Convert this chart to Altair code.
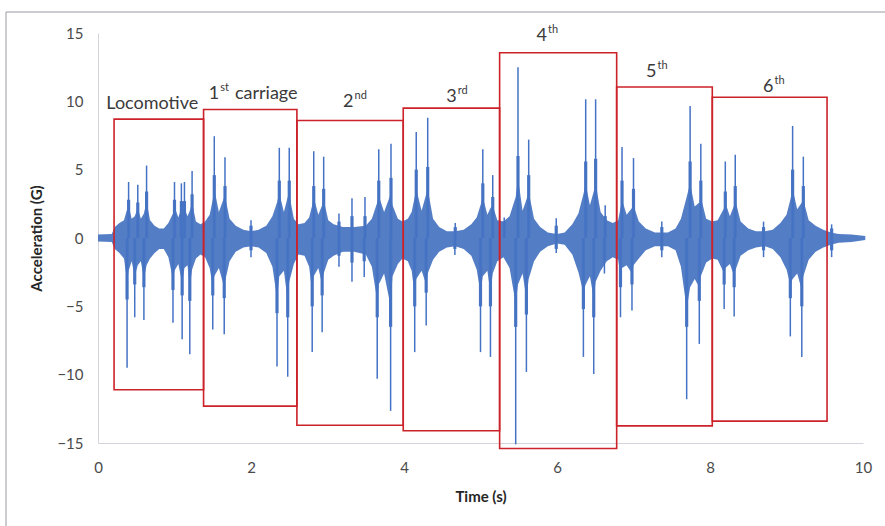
import altair as alt
import pandas as pd

# ---- dense body envelope of the signal (time s, upper G, lower G) ----
env_t = [0.00, 0.18, 0.22, 0.28, 0.34, 0.38, 0.40, 0.44, 0.48, 0.52, 0.56, 0.60, 0.635, 0.68, 0.74, 0.80, 0.86,
         0.92, 0.98, 1.00, 1.05, 1.10, 1.13, 1.17, 1.20, 1.23, 1.28, 1.34, 1.40, 1.46, 1.50, 1.52, 1.58, 1.65,
         1.66, 1.72, 1.80, 1.90, 2.00, 2.10, 2.20, 2.28, 2.34, 2.37, 2.43, 2.48, 2.50, 2.56, 2.62, 2.70, 2.76,
         2.80, 2.82, 2.88, 2.93, 2.95, 3.01, 3.08, 3.20, 3.35, 3.50, 3.58, 3.65, 3.67, 3.74, 3.825, 3.85, 3.92,
         3.98, 4.05, 4.10, 4.14, 4.16, 4.23, 4.29, 4.31, 4.38, 4.46, 4.56, 4.67, 4.78, 4.88, 4.95, 5.00, 5.03,
         5.09, 5.13, 5.16, 5.22, 5.30, 5.38, 5.46, 5.49, 5.55, 5.60, 5.63, 5.70, 5.78, 5.88, 6.00, 6.10, 6.20,
         6.28, 6.345, 6.375, 6.43, 6.48, 6.505, 6.57, 6.65, 6.73, 6.80, 6.83, 6.85, 6.91, 6.98, 7.00, 7.07, 7.16,
         7.28, 7.45, 7.55, 7.62, 7.695, 7.74, 7.80, 7.86, 7.88, 7.95, 8.03, 8.10, 8.185, 8.20, 8.26, 8.316, 8.33,
         8.40, 8.50, 8.60, 8.72, 8.82, 8.92, 9.00, 9.05, 9.08, 9.14, 9.20, 9.22, 9.29, 9.38, 9.48, 9.58, 9.68,
         9.85, 10.03]
env_up = [0.25, 0.3, 0.8, 1.1, 1.3, 2.1, 2.4, 1.4, 1.6, 2.2, 1.4, 1.8, 2.7, 1.3, 0.9, 0.7, 0.7,
          1.1, 1.8, 2.3, 1.5, 2.4, 2.2, 1.6, 2.0, 2.6, 1.2, 1.0, 1.2, 1.7, 2.8, 3.6, 1.9, 3.0,
          3.1, 1.4, 0.9, 0.6, 0.5, 0.6, 0.9, 1.6, 2.6, 3.3, 1.9, 3.0, 3.2, 1.4, 1.0, 1.1, 1.5,
          2.4, 3.0, 1.7, 2.4, 2.8, 1.3, 1.0, 0.8, 0.8, 0.9, 1.4, 2.6, 3.1, 1.9, 3.2, 2.4, 1.4,
          1.2, 1.4, 1.9, 3.0, 3.6, 2.0, 3.2, 3.6, 1.4, 0.8, 0.5, 0.5, 0.6, 1.0, 1.5, 2.4, 3.0,
          1.7, 2.2, 2.4, 1.3, 1.2, 1.6, 3.0, 4.4, 2.0, 2.8, 3.4, 1.4, 0.8, 0.4, 0.3, 0.4, 1.0,
          1.8, 3.2, 4.0, 2.4, 3.4, 4.0, 1.9, 1.3, 1.1, 1.3, 2.2, 2.8, 1.7, 2.2, 2.4, 1.2, 0.7,
          0.4, 0.4, 0.7, 1.4, 3.0, 4.0, 2.3, 2.6, 3.0, 1.4, 1.2, 1.3, 2.2, 2.6, 1.6, 2.4, 2.8,
          1.2, 0.7, 0.5, 0.5, 0.6, 1.1, 1.7, 2.8, 3.6, 2.1, 2.6, 2.8, 1.3, 0.9, 0.6, 0.4, 0.3,
          0.25, 0.15]
env_lo = [-0.25, -0.3, -0.8, -1.1, -1.5, -3.2, -2.4, -1.7, -2.8, -2.0, -1.7, -3.0, -2.0, -1.5, -1.1, -0.8, -0.8,
          -1.4, -3.0, -2.4, -1.9, -3.3, -2.2, -2.0, -3.6, -2.3, -1.5, -1.2, -1.4, -2.2, -3.6, -2.8, -2.2, -3.6,
          -3.2, -1.7, -1.0, -0.7, -0.6, -0.7, -1.1, -2.1, -4.4, -2.8, -2.4, -4.6, -3.2, -1.9, -1.2, -1.3, -2.1,
          -4.0, -2.8, -2.2, -3.4, -2.6, -1.6, -1.3, -1.0, -1.0, -1.2, -2.1, -4.6, -3.4, -2.6, -5.0, -2.8, -1.9,
          -1.5, -1.7, -2.4, -4.2, -3.0, -2.4, -3.4, -2.6, -1.6, -1.0, -0.7, -0.6, -0.8, -1.3, -2.3, -4.0, -2.8,
          -2.4, -4.0, -2.6, -1.7, -1.4, -2.2, -4.8, -3.4, -2.6, -4.4, -3.0, -1.7, -1.0, -0.6, -0.4, -0.5, -1.2,
          -2.5, -4.0, -3.4, -2.8, -4.4, -3.2, -2.4, -1.7, -1.4, -1.6, -2.8, -2.2, -2.0, -2.6, -2.0, -1.5, -0.9,
          -0.6, -0.6, -0.9, -2.1, -5.2, -3.6, -3.0, -3.6, -2.8, -1.8, -1.5, -1.6, -2.6, -2.2, -1.9, -2.8, -2.4,
          -1.3, -0.9, -0.7, -0.6, -0.8, -1.4, -2.3, -3.4, -3.0, -2.6, -3.8, -2.8, -1.6, -1.0, -0.7, -0.5, -0.35,
          -0.3, -0.15]

# ---- individual spikes: time, peak, and height of the thick (dense) lower part ----
pos_t = [0.40, 0.52, 0.635, 1.00, 1.09, 1.13, 1.23,
         1.52, 1.66, 2.00, 2.37, 2.50,
         2.82, 2.95, 3.15, 3.32, 3.49, 3.67, 3.83,
         4.16, 4.31, 4.67, 5.03, 5.16,
         5.31, 5.49, 5.63, 5.99, 6.375, 6.505, 6.63,
         6.85, 7.00, 7.37, 7.74, 7.88,
         8.20, 8.33, 8.70, 9.08, 9.22, 9.59]
pos_v = [4.1, 3.9, 5.3, 4.1, 4.0, 4.1, 4.9,
         7.45, 5.9, 1.3, 6.6, 6.6,
         6.35, 5.95, 1.8, 2.9, 3.0, 6.5, 6.9,
         7.75, 8.8, 1.1, 6.5, 4.6,
         1.5, 12.5, 7.2, 1.45, 10.15, 10.15, 2.4,
         6.65, 5.85, 1.2, 9.65, 6.9,
         5.6, 6.1, 1.2, 8.2, 5.95, 1.0]
pos_sh = [2.8, 2.6, 3.4, 2.8, 2.7, 2.7, 3.2,
          4.6, 3.8, 0.9, 4.2, 4.2,
          3.8, 3.6, 1.2, 1.6, 1.6, 4.2, 4.4,
          5.0, 5.2, 0.8, 4.0, 3.0,
          1.2, 6.0, 4.6, 0.9, 5.6, 5.8, 1.6,
          4.2, 3.6, 0.8, 5.6, 4.2,
          3.4, 3.8, 0.8, 5.0, 3.8, 0.7]
neg_t = [0.38, 0.48, 0.60, 0.98, 1.10, 1.20,
         1.50, 1.65, 2.00, 2.34, 2.48,
         2.80, 2.93, 3.15, 3.32, 3.48, 3.65, 3.825,
         4.14, 4.29, 4.665, 5.00, 5.13,
         5.46, 5.60, 5.99, 6.345, 6.48, 6.62,
         6.83, 6.98, 7.37, 7.695, 7.86,
         8.185, 8.316, 8.70, 9.05, 9.20, 9.59]
neg_v = [-9.5, -5.8, -6.0, -6.2, -7.4, -8.5,
         -6.7, -7.05, -1.4, -9.4, -10.15,
         -8.35, -6.9, -2.1, -3.2, -2.85, -10.3, -12.65,
         -8.35, -6.4, -1.25, -8.35, -8.7,
         -15.1, -9.8, -1.1, -8.7, -9.95, -2.6,
         -5.8, -5.3, -1.4, -11.8, -7.75,
         -5.2, -5.75, -1.4, -7.2, -8.7, -1.4]
neg_sh = [-4.5, -3.4, -3.6, -3.8, -4.2, -4.6,
          -4.2, -4.4, -0.9, -5.5, -5.8,
          -5.0, -4.2, -1.3, -1.8, -1.7, -5.8, -6.5,
          -5.0, -4.0, -0.8, -5.0, -5.0,
          -6.5, -5.6, -0.8, -5.2, -5.8, -1.6,
          -3.6, -3.4, -0.9, -6.5, -4.6,
          -3.4, -3.6, -0.9, -4.4, -5.0, -0.9]

# ---- red boxes ----
box_name = ["Locomotive", "1st", "2nd", "3rd", "4th", "5th", "6th"]
box_t0 = [0.21, 1.38, 2.60, 3.99, 5.25, 6.78, 8.03]
box_t1 = [1.38, 2.60, 3.99, 5.25, 6.78, 8.03, 9.53]
box_top = [8.7, 9.4, 8.6, 9.5, 13.55, 11.05, 10.3]
box_bot = [-11.1, -12.3, -13.7, -14.1, -15.4, -13.75, -13.4]

# ---- annotations ----
lab_base = ["Locomotive", "1", "2", "3", "4", "5", "6"]
lab_sup = ["", "st", "nd", "rd", "th", "th", "th"]
lab_t = [1.31, 1.585, 3.34, 4.69, 5.87, 7.30, 8.83]
lab_v = [9.44, 10.17, 9.58, 9.95, 14.4, 11.78, 10.68]
tail_text = ["carriage"]
tail_t = [1.79]
tail_v = [10.17]

y_ticks = [-15, -10, -5, 0, 5, 10, 15]
x_ticks = [0, 2, 4, 6, 8, 10]

env = pd.DataFrame({"t": env_t, "up": env_up, "lo": env_lo})
pos = pd.DataFrame({"t": pos_t, "v": pos_v, "sh": pos_sh, "z": 0.0})
neg = pd.DataFrame({"t": neg_t, "v": neg_v, "sh": neg_sh, "z": 0.0})
boxes = pd.DataFrame({"name": box_name, "t0": box_t0, "t1": box_t1, "top": box_top, "bot": box_bot})
labs = pd.DataFrame({"base": lab_base, "sup": lab_sup, "t": lab_t, "v": lab_v})
tails = pd.DataFrame({"text": tail_text, "t": tail_t, "v": tail_v})

FONT = "Lato"
BLUE = "#4472C4"
BODY = "#4a76c2"
RED = "#cc2229"

xs = alt.Scale(domain=[0, 10], nice=False)
ys = alt.Scale(domain=[-15, 15], nice=False)

x_axis = alt.Axis(values=x_ticks, format="d", title="Time (s)", grid=False, ticks=False,
                  domainColor="#d4d4dc", labelFlush=False,
                  labelFont=FONT, labelFontSize=15, labelColor="#4a4a4a", labelPadding=17,
                  titleFont=FONT, titleFontSize=15, titleFontWeight="bold", titleColor="#262626",
                  titlePadding=14)
y_axis = alt.Axis(values=y_ticks, format="d", title="Acceleration (G)", grid=False, ticks=False,
                  domainColor="#d4d4dc", labelFlush=False,
                  labelFont=FONT, labelFontSize=15, labelColor="#4a4a4a", labelPadding=15,
                  titleFont=FONT, titleFontSize=15, titleFontWeight="bold", titleColor="#262626",
                  titlePadding=12)

body = alt.Chart(env).mark_area(color=BODY, opacity=0.95, clip=False).encode(
    x=alt.X("t:Q", scale=xs, axis=x_axis),
    y=alt.Y("up:Q", scale=ys, axis=y_axis),
    y2="lo:Q",
)
sh_p = alt.Chart(pos).mark_rule(color=BODY, strokeWidth=3.2).encode(x="t:Q", y="z:Q", y2="sh:Q")
sh_n = alt.Chart(neg).mark_rule(color=BODY, strokeWidth=3.2).encode(x="t:Q", y="z:Q", y2="sh:Q")
spk_p = alt.Chart(pos).mark_rule(color=BLUE, strokeWidth=1.5).encode(
    x="t:Q", y="z:Q", y2="v:Q")
spk_n = alt.Chart(neg).mark_rule(color=BLUE, strokeWidth=1.5, clip=False).encode(
    x="t:Q", y="z:Q", y2="v:Q")

rects = alt.Chart(boxes).mark_rect(fill=None, stroke=RED, strokeWidth=1.6, clip=False).encode(
    x="t0:Q", x2="t1:Q", y="top:Q", y2="bot:Q")

base_txt = alt.Chart(labs).mark_text(font=FONT, fontSize=18, color="#3a3a3a", align="right",
                                     baseline="alphabetic").encode(x="t:Q", y="v:Q", text="base:N")
sup_txt = alt.Chart(labs).mark_text(font=FONT, fontSize=11, color="#3a3a3a", align="left",
                                    baseline="alphabetic", dx=1, dy=-8).encode(x="t:Q", y="v:Q", text="sup:N")
tail_txt = alt.Chart(tails).mark_text(font=FONT, fontSize=18, color="#3a3a3a", align="left",
                                      baseline="alphabetic").encode(x="t:Q", y="v:Q", text="text:N")

frame = alt.Chart(boxes.head(1)).mark_rect(fill=None, stroke="#9a9aa2", strokeWidth=1, clip=False).encode(
    x=alt.value(-92), x2=alt.value(900), y=alt.value(-21), y2=alt.value(600))

chart = alt.layer(frame, body, sh_p, sh_n, spk_p, spk_n, rects, base_txt, sup_txt, tail_txt).properties(
    width=765, height=410,
    autosize=alt.AutoSizeParams(type="none"),
    padding={"left": 98, "top": 33, "right": 22, "bottom": 83},
    background="white",
).configure_view(stroke=None)

chart.save("out.html", embed_options={"renderer": "svg", "actions": False})
